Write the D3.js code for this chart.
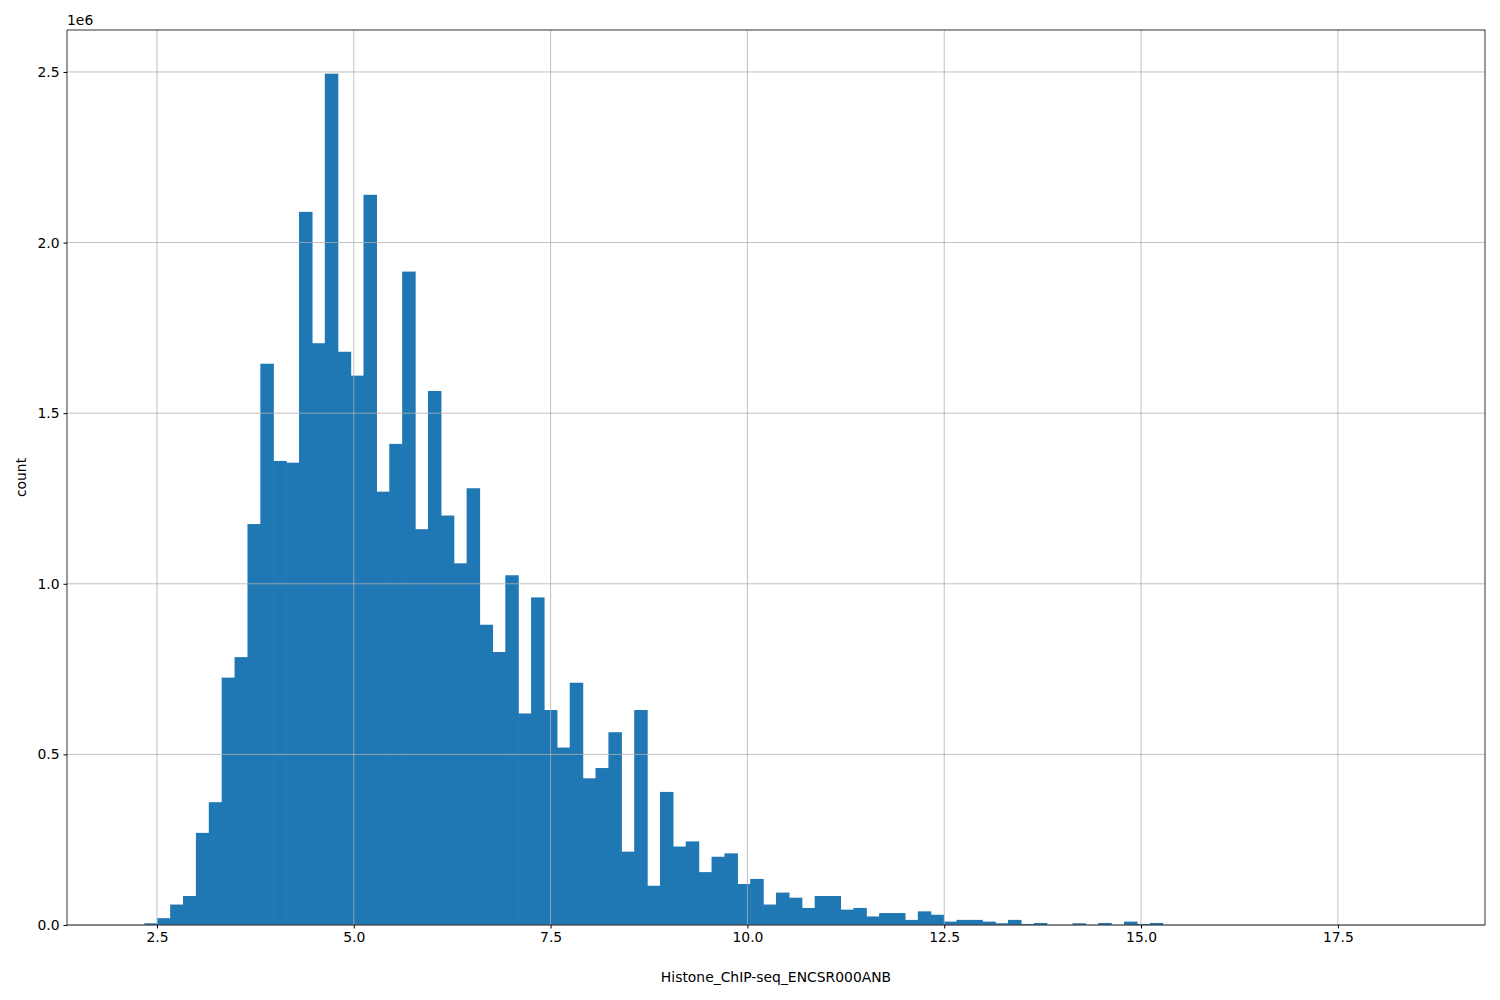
<!DOCTYPE html>
<html><head><meta charset="utf-8">
<script src="https://cdn.jsdelivr.net/npm/d3@7"></script>
<style>body{margin:0;background:#fff}text{font-family:"DejaVu Sans",sans-serif}</style>
</head><body>
<script>
// histogram: 100 bins between binMin and binMax
const binMin = 2.176, binMax = 18.55;
const counts = [
  0, 5000, 20000, 60000, 85000, 270000, 360000, 725000, 785000, 1175000,
  1645000, 1360000, 1355000, 2090000, 1705000, 2495000, 1680000, 1610000, 2140000, 1270000,
  1410000, 1915000, 1160000, 1565000, 1200000, 1060000, 1280000, 880000, 800000, 1025000,
  620000, 960000, 630000, 520000, 710000, 430000, 460000, 565000, 215000, 630000,
  115000, 390000, 230000, 245000, 155000, 200000, 210000, 120000, 135000, 60000,
  95000, 80000, 50000, 85000, 85000, 45000, 50000, 25000, 35000, 35000,
  15000, 40000, 30000, 10000, 15000, 15000, 10000, 5000, 15000, 3000,
  6000, 0, 0, 5000, 0, 6000, 0, 10000, 3000, 6000
];
const xTicks = [2.5, 5.0, 7.5, 10.0, 12.5, 15.0, 17.5];
const yTicks = [0, 0.5e6, 1.0e6, 1.5e6, 2.0e6, 2.5e6];

const W = 1500, H = 1000;
const m = {left: 67, right: 15, top: 30, bottom: 75};
const svg = d3.select('body').append('svg').attr('width', W).attr('height', H);
const g = svg.append('g').attr('transform', `translate(${m.left},${m.top})`);
const iw = W - m.left - m.right, ih = H - m.top - m.bottom;

const span = binMax - binMin;
const x = d3.scaleLinear().domain([binMin - span * 0.05, binMax + span * 0.05]).range([0, iw]);
const y = d3.scaleLinear().domain([0, 2.623e6]).range([ih, 0]);
const bw = span / 100;

g.selectAll('rect.bar').data(counts).enter().append('rect')
  .attr('class', 'bar')
  .attr('x', (d, i) => x(binMin + i * bw))
  .attr('width', x(binMin + bw) - x(binMin) + 0.6)
  .attr('y', d => y(d))
  .attr('height', d => ih - y(d))
  .attr('fill', '#1f77b4');

// grid over bars, like matplotlib
g.selectAll('line.gx').data(xTicks).enter().append('line')
  .attr('x1', d => x(d)).attr('x2', d => x(d)).attr('y1', 0).attr('y2', ih)
  .attr('stroke', '#b0b0b0').attr('stroke-width', 0.8);
g.selectAll('line.gy').data(yTicks).enter().append('line')
  .attr('y1', d => y(d)).attr('y2', d => y(d)).attr('x1', 0).attr('x2', iw)
  .attr('stroke', '#b0b0b0').attr('stroke-width', 0.8);

const xAxis = g.append('g').attr('transform', `translate(0,${ih})`)
  .call(d3.axisBottom(x).tickValues(xTicks).tickFormat(d3.format('.1f')).tickSize(3.5).tickPadding(4));
const yAxis = g.append('g')
  .call(d3.axisLeft(y).tickValues(yTicks).tickFormat(d => (d / 1e6).toFixed(1)).tickSize(3.5).tickPadding(4));
[xAxis, yAxis].forEach(a => {
  a.select('.domain').remove();
  a.selectAll('text').attr('font-size', 13.9).attr('fill', '#000');
  a.selectAll('line').attr('stroke', '#000');
});

g.append('rect').attr('width', iw).attr('height', ih).attr('fill', 'none').attr('stroke', '#000').attr('stroke-width', 0.8);

svg.append('text').attr('x', m.left).attr('y', 25).attr('font-size', 13.9).text('1e6');
svg.append('text').attr('x', m.left + iw / 2).attr('y', 982).attr('text-anchor', 'middle').attr('font-size', 13.9).text('Histone_ChIP-seq_ENCSR000ANB');
svg.append('text').attr('transform', `translate(26,${m.top + ih / 2}) rotate(-90)`).attr('text-anchor', 'middle').attr('font-size', 13.9).text('count');
</script>
</body></html>
